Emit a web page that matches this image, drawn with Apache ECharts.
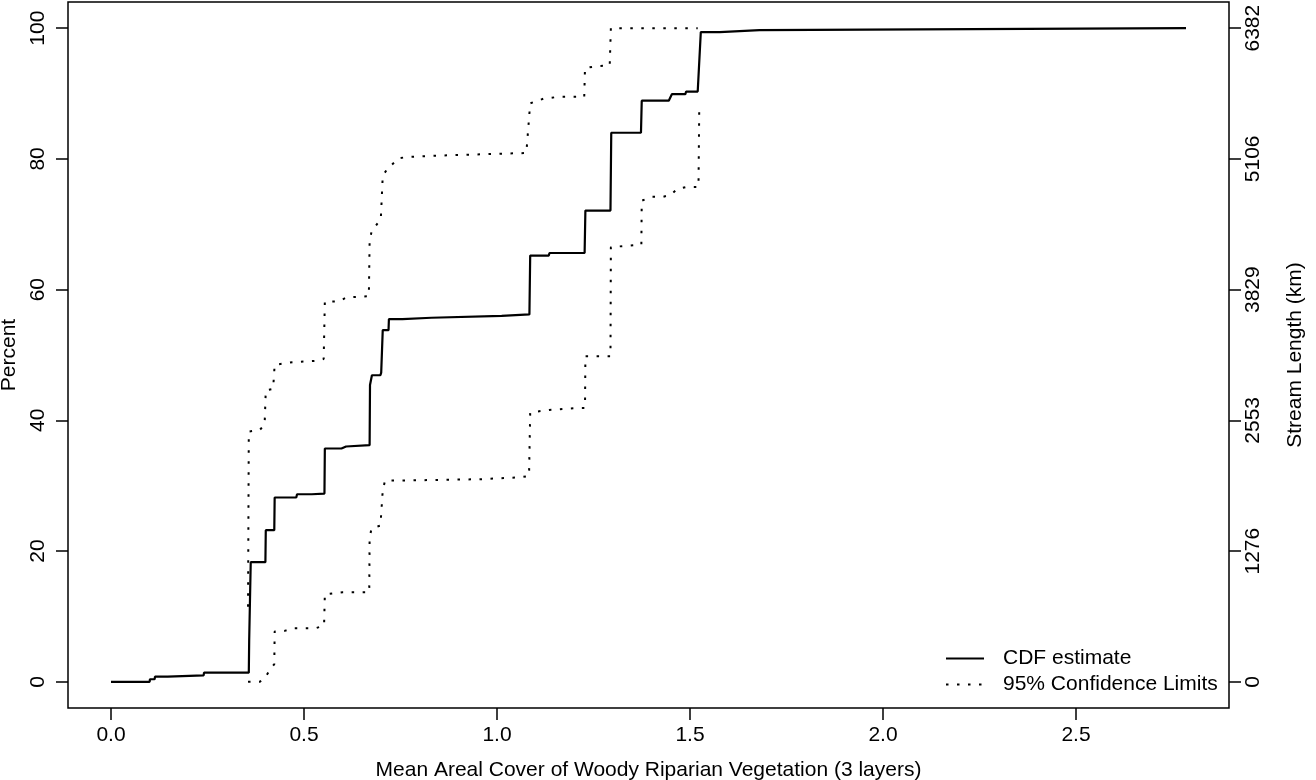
<!DOCTYPE html>
<html>
<head>
<meta charset="utf-8">
<script src="https://cdn.jsdelivr.net/npm/echarts@6/dist/echarts.min.js"></script>
<style>
html,body{margin:0;padding:0;background:#fff;}
#chart{width:1316px;height:780px;}
</style>
</head>
<body>
<div id="chart"></div>
<script>
// ---- Data ----
const xTickValues = [0, 0.5, 1.0, 1.5, 2.0, 2.5];
const pctTickValues = [0, 20, 40, 60, 80, 100];
const lengthTickValues = [0, 1276, 2553, 3829, 5106, 6382];
const totalLength = 6382;

// CDF estimate (x = mean areal cover, y = percent)
const cdfX = [0, 0.100, 0.101, 0.113, 0.114, 0.147, 0.148, 0.240, 0.241, 0.357, 0.358, 0.361, 0.362, 0.400, 0.401, 0.423, 0.424, 0.480, 0.482, 0.520, 0.521, 0.553, 0.554, 0.597, 0.599, 0.609, 0.611, 0.670, 0.671, 0.676, 0.698, 0.700, 0.703, 0.704, 0.719, 0.720, 0.755, 0.757, 0.830, 0.832, 1.012, 1.015, 1.084, 1.086, 1.134, 1.136, 1.227, 1.229, 1.294, 1.296, 1.373, 1.375, 1.445, 1.453, 1.488, 1.490, 1.520, 1.528, 1.577, 1.580, 1.680, 1.682, 2.785];
const cdfY = [0, 0, 0.4, 0.4, 0.8, 0.8, 1.0, 1.0, 1.4, 1.4, 6.4, 6.4, 18.3, 18.3, 23.2, 23.2, 28.2, 28.2, 28.7, 28.7, 28.8, 28.8, 35.7, 35.7, 36.0, 36.0, 36.2, 36.2, 45.4, 46.9, 46.9, 47.3, 47.3, 53.8, 53.8, 55.5, 55.5, 55.7, 55.7, 56.0, 56.0, 56.2, 56.2, 65.2, 65.2, 65.6, 65.6, 72.1, 72.1, 84.0, 84.0, 88.9, 88.9, 89.9, 89.9, 90.3, 90.3, 99.4, 99.4, 99.7, 99.7, 100, 100];

// Lower 95% confidence limit
const lowerX = [0.355, 0.385, 0.400, 0.411, 0.423, 0.424, 0.450, 0.472, 0.530, 0.552, 0.554, 0.600, 0.669, 0.670, 0.675, 0.698, 0.704, 0.710, 0.760, 0.850, 0.960, 1.060, 1.083, 1.086, 1.135, 1.215, 1.228, 1.229, 1.294, 1.295, 1.374, 1.375, 1.400, 1.430, 1.450, 1.467, 1.490, 1.522, 1.524];
const lowerY = [0, 0, 0.7, 1.8, 2.7, 7.7, 7.8, 8.2, 8.2, 8.6, 13.4, 13.7, 13.7, 22.0, 23.5, 23.9, 29.3, 30.8, 30.8, 30.9, 31.0, 31.3, 31.5, 41.2, 41.6, 41.9, 41.9, 49.8, 49.8, 66.5, 66.9, 73.6, 74.2, 74.2, 74.5, 75.4, 75.7, 75.7, 88.0];

// Upper 95% confidence limit
const upperX = [0.355, 0.357, 0.385, 0.398, 0.401, 0.420, 0.424, 0.470, 0.530, 0.551, 0.554, 0.590, 0.610, 0.668, 0.670, 0.675, 0.699, 0.704, 0.715, 0.745, 0.770, 0.850, 1.010, 1.076, 1.086, 1.120, 1.160, 1.226, 1.228, 1.260, 1.292, 1.295, 1.520];
const upperY = [11.5, 38.3, 38.5, 39.4, 44.6, 44.8, 48.5, 48.9, 49.1, 49.4, 58.2, 58.2, 58.8, 59.0, 67.3, 68.9, 70.8, 77.4, 78.4, 80.1, 80.3, 80.5, 80.8, 80.9, 88.5, 89.2, 89.5, 89.5, 93.9, 94.2, 94.3, 100, 100];

// ---- Build chart ----
const zip = (xs, ys) => xs.map((x, i) => [x, ys[i]]);
const FONT = '"Liberation Sans", Arial, sans-serif';
const xMin = Math.min(...cdfX), xMax = Math.max(...cdfX);
const xPad = 0.04 * (xMax - xMin);
const yPad = 4;

const chart = echarts.init(document.getElementById('chart'), null, {renderer: 'canvas'});
const tickStyle = {show: true, inside: false, length: 12, lineStyle: {color: '#000', width: 1.5}};
const labelBase = {color: '#000', fontSize: 21, fontFamily: FONT};

chart.setOption({
  animation: false,
  backgroundColor: '#fff',
  grid: {left: 68, right: 87, top: 2, bottom: 72, show: true, borderColor: '#000', borderWidth: 1.5,
         backgroundColor: 'transparent', containLabel: false, outerBoundsMode: 'none'},
  xAxis: {
    type: 'value', min: xMin - xPad, max: xMax + xPad,
    axisLine: {show: false, onZero: false}, splitLine: {show: false},
    axisTick: Object.assign({customValues: xTickValues}, tickStyle),
    axisLabel: Object.assign({customValues: xTickValues, margin: 27, verticalAlign: 'middle', formatter: v => v.toFixed(1)}, labelBase),
    name: 'Mean Areal Cover of Woody Riparian Vegetation (3 layers)',
    nameLocation: 'middle', nameGap: 62,
    nameTextStyle: Object.assign({verticalAlign: 'middle', align: 'center'}, labelBase)
  },
  yAxis: [{
    type: 'value', position: 'left', min: 0 - yPad, max: 100 + yPad,
    axisLine: {show: false, onZero: false}, splitLine: {show: false},
    axisTick: Object.assign({customValues: pctTickValues}, tickStyle),
    axisLabel: Object.assign({customValues: pctTickValues, rotate: 90, align: 'center', verticalAlign: 'middle', margin: 30, formatter: v => String(v)}, labelBase),
    name: 'Percent', nameLocation: 'middle', nameGap: 39, nameRotate: 90,
    nameTextStyle: Object.assign({verticalAlign: 'middle', align: 'center'}, labelBase)
  }, {
    type: 'value', position: 'right', min: -yPad / 100 * totalLength, max: (100 + yPad) / 100 * totalLength,
    axisLine: {show: false, onZero: false}, splitLine: {show: false},
    axisTick: Object.assign({customValues: lengthTickValues}, tickStyle),
    axisLabel: Object.assign({customValues: lengthTickValues, rotate: 90, align: 'center', verticalAlign: 'middle', margin: 24, formatter: v => String(v)}, labelBase),
    name: 'Stream Length (km)', nameLocation: 'middle', nameGap: 66, nameRotate: 90,
    nameTextStyle: Object.assign({verticalAlign: 'middle', align: 'center'}, labelBase)
  }],
  legend: {
    orient: 'vertical', left: 945, top: 648, padding: 0,
    itemWidth: 38, itemHeight: 14, itemGap: 5,
    itemStyle: {opacity: 0},
    textStyle: Object.assign({padding: [0, 0, 0, 14]}, labelBase),
    data: ['CDF estimate', '95% Confidence Limits']
  },
  series: [{
    name: 'CDF estimate', type: 'line', data: zip(cdfX, cdfY),
    symbol: 'none', showSymbol: false, silent: true,
    lineStyle: {color: '#000', width: 2.2}
  }, {
    name: '95% Confidence Limits', type: 'line', data: zip(lowerX, lowerY),
    symbol: 'none', showSymbol: false, silent: true,
    lineStyle: {color: '#000', width: 2, type: [2.5, 8.5], cap: 'butt'}
  }, {
    name: '95% Confidence Limits', type: 'line', data: zip(upperX, upperY),
    symbol: 'none', showSymbol: false, silent: true,
    lineStyle: {color: '#000', width: 2, type: [2.5, 8.5], cap: 'butt'}
  }]
});
</script>
</body>
</html>
